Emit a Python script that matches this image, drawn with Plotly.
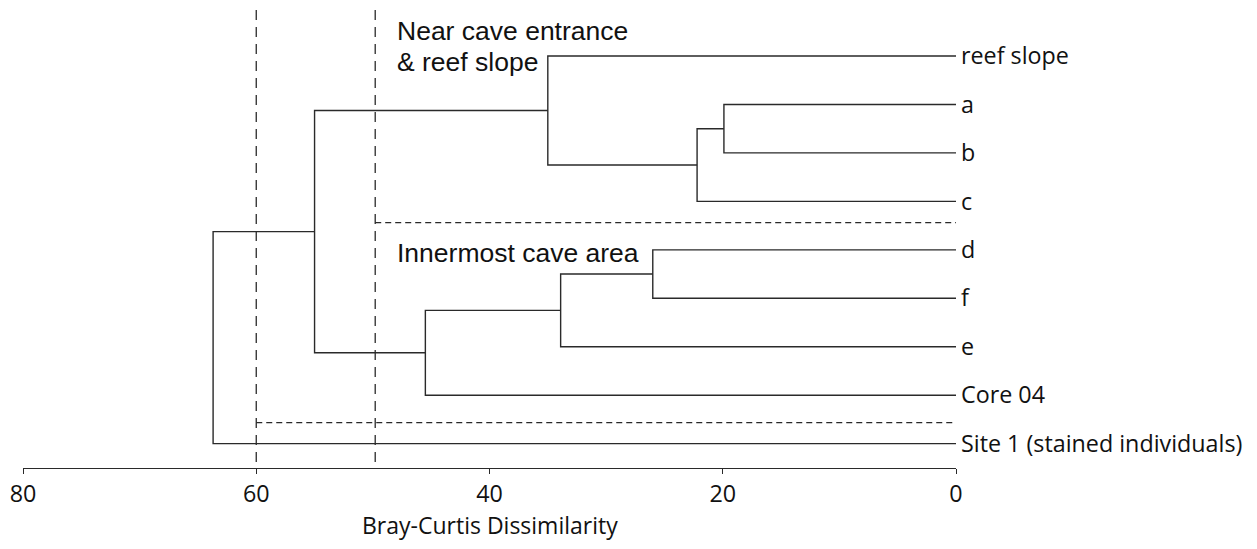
import plotly.graph_objects as go

# ---- data ----
leaf_labels = ["reef slope", "a", "b", "c", "d", "f", "e", "Core 04",
               "Site 1 (stained individuals)"]
# linkage (scipy style): new cluster id = n_leaves + merge index
merge_a = [1, 9, 0, 4, 12, 13, 11, 15]
merge_b = [2, 3, 10, 5, 6, 7, 14, 8]
merge_height = [19.9, 22.2, 35.0, 26.0, 33.9, 45.5, 55.0, 63.7]

cut_levels = [60.0, 49.8]          # vertical dashed cut lines
group_bounds = [3.44, 7.567]       # horizontal dashed group separators
group_bound_start = [49.8, 60.0]   # where each separator starts (dissimilarity)

x_ticks = [80, 60, 40, 20, 0]
x_title = "Bray-Curtis Dissimilarity"
group_names = ["Near cave entrance", "& reef slope", "Innermost cave area"]

# ---- build dendrogram coordinates ----
n = len(leaf_labels)
node_x = {i: 0.0 for i in range(n)}
node_y = {i: float(i) for i in range(n)}
lx, ly = [], []
for k, (a, b, h) in enumerate(zip(merge_a, merge_b, merge_height)):
    lx += [node_x[a], h, h, node_x[b], None]
    ly += [node_y[a], node_y[a], node_y[b], node_y[b], None]
    node_x[n + k] = h
    node_y[n + k] = (node_y[a] + node_y[b]) / 2

LINE = "#2a2a2a"
fig = go.Figure()
fig.add_trace(go.Scatter(x=lx, y=ly, mode="lines",
                         line=dict(color=LINE, width=1.4),
                         hoverinfo="skip", showlegend=False))

Y_TOP, Y_BOT = -0.970, 8.502
vx, vy = [], []
for c in cut_levels:
    vx += [c, c, None]
    vy += [Y_TOP + 0.02, Y_BOT, None]
fig.add_trace(go.Scatter(x=vx, y=vy, mode="lines",
                         line=dict(color=LINE, width=1.3, dash="10px,7px"),
                         hoverinfo="skip", showlegend=False))
hx, hy = [], []
for yb, xs in zip(group_bounds, group_bound_start):
    hx += [xs, 0, None]
    hy += [yb, yb, None]
fig.add_trace(go.Scatter(x=hx, y=hy, mode="lines",
                         line=dict(color=LINE, width=1.3, dash="6px,4px"),
                         hoverinfo="skip", showlegend=False))

ann_font = dict(family="Liberation Sans, Arial, sans-serif", size=26.5, color="#111")
fig.add_annotation(x=48.1, y=-0.52, xref="x", yref="y", text=group_names[0],
                   showarrow=False, xanchor="left", yanchor="middle", font=ann_font)
fig.add_annotation(x=48.1, y=0.12, xref="x", yref="y", text=group_names[1],
                   showarrow=False, xanchor="left", yanchor="middle", font=ann_font)
fig.add_annotation(x=48.1, y=4.07, xref="x", yref="y", text=group_names[2],
                   showarrow=False, xanchor="left", yanchor="middle", font=ann_font)

# axis title
fig.add_annotation(x=40, y=0, xref="x", yref="paper", text=x_title,
                   showarrow=False, xanchor="center", yanchor="middle", yshift=-57,
                   font=dict(family="Open Sans, sans-serif", size=23, color="#111"))

lab_font = dict(family="Open Sans, sans-serif", size=23.3, color="#111")
fig.update_layout(
    width=1241, height=533,
    margin=dict(l=15, r=293, t=1, b=73),
    paper_bgcolor="white", plot_bgcolor="white",
    xaxis=dict(range=[80, 0], tickvals=x_ticks, ticktext=[str(t) for t in x_ticks],
               showline=True, linecolor=LINE, linewidth=1.4, automargin=False,
               ticks="outside", ticklen=5, tickwidth=1.4, tickcolor=LINE,
               showgrid=False, zeroline=False, tickfont=lab_font),
    yaxis=dict(range=[Y_BOT, Y_TOP], side="right", tickvals=list(range(n)),
               ticktext=leaf_labels, ticks="", showline=False, showgrid=False,
               zeroline=False, tickfont=lab_font, ticklabelstandoff=4,
               automargin=False),
)
fig.write_html("out.html")
